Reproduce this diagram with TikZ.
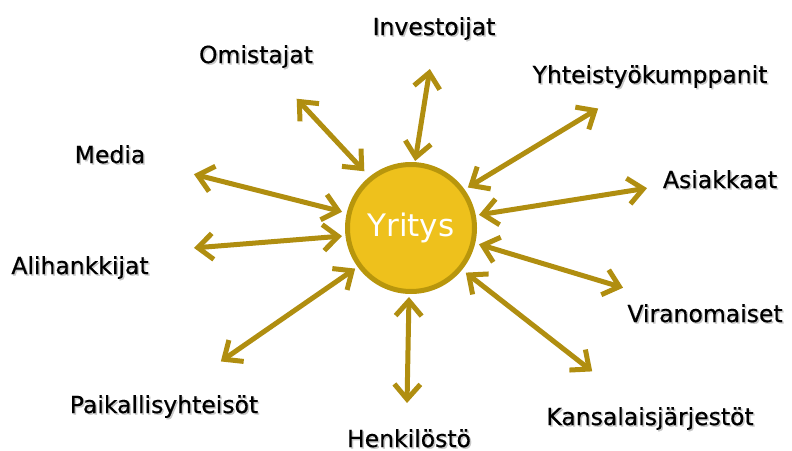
\documentclass[tikz,border=0pt]{standalone}
\usepackage{fontspec}
\setmainfont{DejaVu Sans}
\newfontfamily\lblfont{DejaVu Sans}[FakeBold=0.5]
\newfontfamily\yfont{DejaVu Sans}
\usetikzlibrary{arrows.meta}
\definecolor{arr}{HTML}{B08E10}
\definecolor{cfill}{HTML}{EEC11C}
\definecolor{cdraw}{HTML}{B8960C}
\tikzset{
  lbl/.style={font=\lblfont\fontsize{23.5}{26}\selectfont, text=black, inner sep=0pt, anchor=base},
  shd/.style={font=\lblfont\fontsize{23.5}{26}\selectfont, text=black!22, inner sep=0pt, anchor=base, xshift=1.5pt, yshift=-1.5pt},
  link/.style={draw=arr, line width=5pt,
    {Straight Barb[length=15pt,width=26pt,line width=5pt]}-{Straight Barb[length=15pt,width=26pt,line width=5pt]},
    shorten >=1pt, shorten <=1pt},
}
\begin{document}
\begin{tikzpicture}[x=1pt,y=-1pt]
\useasboundingbox (0,0) rectangle (792,450);
\node[circle, fill=cfill, draw=cdraw, line width=5pt, minimum size=127pt, inner sep=0pt,
  text=white, font=\yfont\fontsize{31}{34}\selectfont] (c) at (411,228) {Yritys};
% outer endpoints
\coordinate (o1) at (430,68);
\coordinate (o2) at (296,98);
\coordinate (o3) at (599,108);
\coordinate (o4) at (193,174);
\coordinate (o5) at (648,188);
\coordinate (o6) at (193,248);
\coordinate (o7) at (624,288);
\coordinate (o8) at (220,362);
\coordinate (o9) at (407,404);
\coordinate (o10) at (593,372);
% inner endpoints
\coordinate (i1) at (415,162);
\coordinate (i2) at (365,172);
\coordinate (i3) at (467,188);
\coordinate (i4) at (343,212);
\coordinate (i5) at (478,215);
\coordinate (i6) at (343,236);
\coordinate (i7) at (478,244);
\coordinate (i8) at (356,268);
\coordinate (i9) at (409,296);
\coordinate (i10) at (465,272);
\foreach \k in {1,...,10} {\draw[link] (o\k) -- (i\k);}
\foreach \p/\txt [count=\n] in {{434,35}/Investoijat, {256,63}/Omistajat, {650,83}/Yhteistyökumppanit,
  {110,163}/Media, {720,188}/Asiakkaat, {80,274}/Alihankkijat, {705,322}/Viranomaiset,
  {164,413}/Paikallisyhteisöt, {409,447}/Henkilöstö, {650,425}/Kansalaisjärjestöt}
  {\node[shd] (s\n) at (\p) {\txt};
   \node[lbl] (t\n) at (\p) {\txt};}
\end{tikzpicture}
\end{document}
